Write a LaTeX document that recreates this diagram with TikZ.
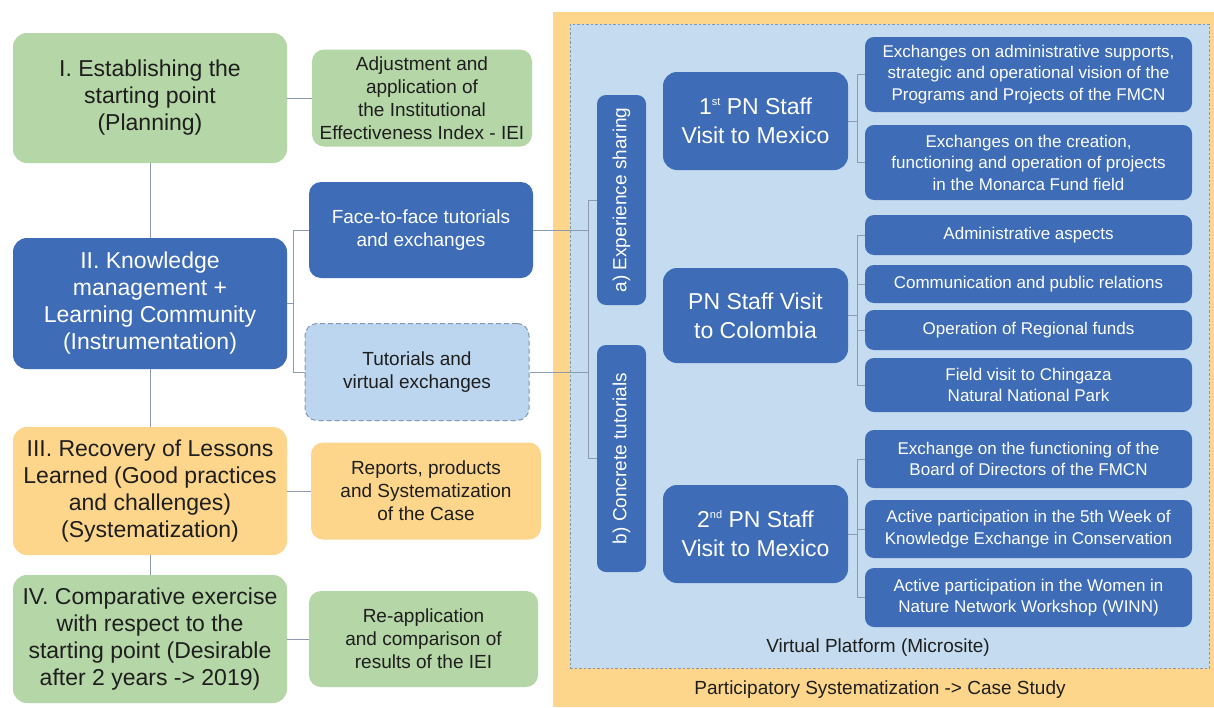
\documentclass[tikz,border=0pt]{standalone}
\usepackage{fontspec}
\setmainfont{Liberation Sans}
\definecolor{dblue}{HTML}{3E6CB6}
\definecolor{lgreen}{HTML}{B5D6A6}
\definecolor{lorange}{HTML}{FDD68C}
\definecolor{lblue}{HTML}{C5DCF0}
\definecolor{tblue}{HTML}{BCD6EF}
\definecolor{lnk}{HTML}{8E9AB4}
\definecolor{txt}{HTML}{1E1E1E}
\definecolor{dashc}{HTML}{8596AE}
\newcommand{\smallsup}[1]{\raisebox{0.75ex}{\fontsize{11}{11}\selectfont #1}}
\begin{document}
\begin{tikzpicture}[x=1pt,y=-1pt,
  box/.style={rounded corners=14pt, align=center, inner sep=0pt, text=txt},
  big/.style={box, font=\fontsize{23}{27}\selectfont},
  midbox/.style={box, rounded corners=12pt, font=\fontsize{19}{23}\selectfont},
  smallbox/.style={box, rounded corners=9pt, fill=dblue, text=white, font=\fontsize{17}{21.5}\selectfont, minimum width=327pt},
  visitbox/.style={box, rounded corners=14pt, fill=dblue, text=white, font=\fontsize{23}{29}\selectfont, minimum width=185pt},
  vertbox/.style={rounded corners=9pt, fill=dblue, inner sep=0pt, minimum width=49pt},
  verttext/.style={rotate=90, text=white, font=\fontsize{19}{23}\selectfont, inner sep=0pt},
  link/.style={draw=lnk, line width=0.9pt}]
\useasboundingbox (0,0) rectangle (1214,707);
\fill[white] (0,0) rectangle (1214,707);

% containers
\node[fill=lorange, minimum width=661pt, minimum height=695pt, inner sep=0pt] (frame) at (883.5,359.5) {};
\node[fill=lblue, draw=dashc, dash pattern=on 2.5pt off 2pt, line width=0.8pt, minimum width=639pt, minimum height=644pt, inner sep=0pt] (plat) at (889.5,346) {};
\node[font=\fontsize{19}{23}\selectfont, text=txt] (platlbl) at (878,648) {Virtual Platform (Microsite)};
\node[font=\fontsize{19}{23}\selectfont, text=txt] (framelbl) at (880,690) {Participatory Systematization -> Case Study};

% left column
\node[big, fill=lgreen, minimum width=274pt, minimum height=130pt] (I) at (150,98) {I. Establishing the\\starting point\\(Planning)};
\node[big, fill=dblue, text=white, minimum width=274pt, minimum height=131pt] (II) at (150,303.5) {II. Knowledge\\management +\\Learning Community\\(Instrumentation)};
\node[big, fill=lorange, minimum width=274pt, minimum height=128pt] (III) at (150,491) {III. Recovery of Lessons\\Learned (Good practices\\and challenges)\\(Systematization)};
\node[big, fill=lgreen, minimum width=274pt, minimum height=128pt] (IV) at (150,639) {IV. Comparative exercise\\with respect to the\\starting point (Desirable\\after 2 years -> 2019)};

% middle column
\node[midbox, fill=lgreen, minimum width=220pt, minimum height=97pt] (adj) at (422,98) {Adjustment and\\application of\\the Institutional\\Effectiveness Index - IEI};
\node[midbox, fill=dblue, text=white, minimum width=224pt, minimum height=96pt] (face) at (421,230) {Face-to-face tutorials\\and exchanges};
\node[midbox, fill=tblue, draw=dashc, dash pattern=on 5pt off 3pt, line width=1pt, minimum width=224pt, minimum height=97pt] (tut) at (417,372) {Tutorials and\\virtual exchanges};
\node[midbox, fill=lorange, minimum width=230pt, minimum height=97pt] (rep) at (426,491) {Reports, products\\and Systematization\\of the Case};
\node[midbox, fill=lgreen, minimum width=229pt, minimum height=96pt] (reapp) at (423.5,639) {Re-application\\and comparison of\\results of the IEI};

% vertical boxes
\node[vertbox, minimum height=210pt] (A) at (621.5,200) {};
\node[verttext] (At) at (A.center) {a) Experience sharing};
\node[vertbox, minimum height=227pt] (B) at (621.5,458.5) {};
\node[verttext] (Bt) at (B.center) {b) Concrete tutorials};

% visit boxes
\node[visitbox, minimum height=98pt] (V1) at (755.5,121) {1\smallsup{st} PN Staff\\Visit to Mexico};
\node[visitbox, minimum height=95pt] (V2) at (755.5,315.5) {PN Staff Visit\\to Colombia};
\node[visitbox, minimum height=98pt] (V3) at (755.5,534) {2\smallsup{nd} PN Staff\\Visit to Mexico};

% right boxes
\node[smallbox, minimum height=75pt] (R1) at (1028.5,74.5) {Exchanges on administrative supports,\\strategic and operational vision of the\\Programs and Projects of the FMCN};
\node[smallbox, minimum height=75pt] (R2) at (1028.5,162.5) {Exchanges on the creation,\\functioning and operation of projects\\in the Monarca Fund field};
\node[smallbox, minimum height=40pt] (R3) at (1028.5,235) {Administrative aspects};
\node[smallbox, minimum height=38pt] (R4) at (1028.5,284) {Communication and public relations};
\node[smallbox, minimum height=40pt] (R5) at (1028.5,330) {Operation of Regional funds};
\node[smallbox, minimum height=54pt] (R6) at (1028.5,385) {Field visit to Chingaza\\Natural National Park};
\node[smallbox, minimum height=58pt] (R7) at (1028.5,459) {Exchange on the functioning of the\\Board of Directors of the FMCN};
\node[smallbox, minimum height=58pt] (R8) at (1028.5,529) {Active participation in the 5th Week of\\Knowledge Exchange in Conservation};
\node[smallbox, minimum height=59pt] (R9) at (1028.5,597.5) {Active participation in the Women in\\Nature Network Workshop (WINN)};

% connectors left
\draw[link] (I.south) -- (II.north);
\draw[link] (II.south) -- (III.north);
\draw[link] (III.south) -- (IV.north);
\draw[link] (I.east) -- (adj.west);
\draw[link] (III.east) -- (rep.west);
\draw[link] (IV.east) -- (reapp.west);
\coordinate (b1) at (293,303.5);
\draw[link] (II.east) -- (b1);
\draw[link] (face.west) -| (b1);
\draw[link] (tut.west) -| (b1);

% connectors to a) / b)
\coordinate (j) at (588,230);
\coordinate (k) at (588,372);
\draw[link] (face.east) -- (j);
\draw[link] (tut.east) -- (k);
\draw[link] (j) -- (k);
\draw[link] (A.west) -| (j);
\draw[link] (B.west) -| (k);

% visit branches
\coordinate (c1) at (857,121);
\coordinate (c2) at (857,315.5);
\coordinate (c3) at (857,534);
\draw[link] (V1.east) -- (c1);
\draw[link] (R1.west) -| (c1);
\draw[link] (R2.west) -| (c1);
\draw[link] (V2.east) -- (c2);
\foreach \r in {R3,R4,R5,R6} \draw[link] (\r.west) -| (c2);
\draw[link] (V3.east) -- (c3);
\foreach \r in {R7,R8,R9} \draw[link] (\r.west) -| (c3);
\end{tikzpicture}
\end{document}
